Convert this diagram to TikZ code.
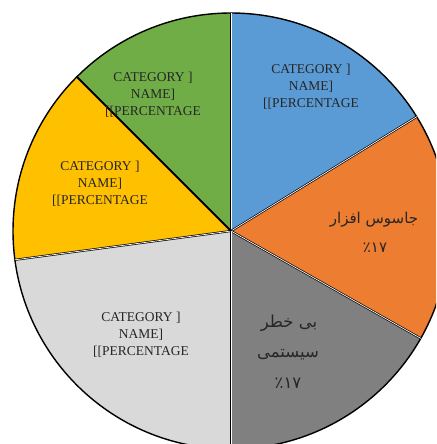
\documentclass[tikz,border=0pt]{standalone}
\usepackage{fontspec}
\usetikzlibrary{calc}
\setmainfont{Liberation Serif}
\newfontfamily\arabicfont[Script=Arabic]{DejaVu Sans}
\TeXXeTstate=1
\definecolor{pblue}{HTML}{5B9BD5}
\definecolor{porange}{HTML}{ED7D31}
\definecolor{pgray}{HTML}{808080}
\definecolor{plight}{HTML}{D9D9D9}
\definecolor{pyellow}{HTML}{FFC000}
\definecolor{pgreen}{HTML}{70AD47}
\tikzset{
  sep/.style={draw=black, line width=0.7pt, double=white, double distance=0.7pt},
  sepdark/.style={draw=black, line width=2pt},
  lat/.style={font=\fontsize{13.5}{17}\selectfont, align=center, text=black!85},
  arb/.style={font=\arabicfont\fontsize{15}{18}\selectfont, text=black!85},
  arbg/.style={font=\arabicfont\fontsize{16.5}{18}\selectfont, text=black!85},
}
\newcommand{\cattext}{CATEGORY ]\\NAME]\\{}{[}[PERCENTAGE}
\begin{document}
\begin{tikzpicture}[x=1pt,y=1pt]
\useasboundingbox (0,0) rectangle (436,-444);
\clip (0,0) rectangle (436,-444);
\coordinate (c) at (231,-231);
\def\R{218}
\fill[pblue]   (c) -- ++(90:\R)    arc[start angle=90,   end angle=31.6,  radius=\R] -- cycle;
\fill[porange] (c) -- ++(31.6:\R)  arc[start angle=31.6, end angle=-29.5, radius=\R] -- cycle;
\fill[pgray]   (c) -- ++(-29.5:\R) arc[start angle=-29.5,end angle=-90,   radius=\R] -- cycle;
\fill[plight]  (c) -- ++(-90:\R)   arc[start angle=-90,  end angle=-172.4,radius=\R] -- cycle;
\fill[pyellow] (c) -- ++(187.6:\R) arc[start angle=187.6,end angle=135,   radius=\R] -- cycle;
\fill[pgreen]  (c) -- ++(135:\R)   arc[start angle=135,  end angle=90,    radius=\R] -- cycle;
\draw[black, line width=1.4pt] (c) circle[radius=\R];
\coordinate (e1) at ($(c)+(90:\R)$);
\coordinate (e2) at ($(c)+(31.6:\R)$);
\coordinate (e3) at ($(c)+(-29.5:\R)$);
\coordinate (e4) at ($(c)+(-90:\R)$);
\coordinate (e5) at ($(c)+(187.6:\R)$);
\coordinate (e6) at ($(c)+(135:\R)$);
\draw[sep] (c) -- (e1);
\draw[sep] (c) -- (e2);
\draw[sep] (c) -- (e3);
\draw[sep] (c) -- (e4);
\draw[sep] (c) -- (e5);
\draw[sepdark] (c) -- (e6);
\node[lat] (tblue)  at (311,-87)  {\cattext};
\node[lat] (tgreen) at (153,-95)  {\cattext};
\node[lat] (tyel)   at (100,-184) {\cattext};
\node[lat] (tlight) at (141,-335) {\cattext};
\node[arb] (to1) at (374,-220) {\beginR جاسوس افزار\endR};
\node[arb] (to2) at (375,-248) {٪۱۷};
\node[arbg] (tg1) at (289,-323) {\beginR بی خطر\endR};
\node[arbg] (tg2) at (288,-355) {\beginR سیستمی\endR};
\node[arbg] (tg3) at (288,-383) {٪۱۷};
\end{tikzpicture}
\end{document}
